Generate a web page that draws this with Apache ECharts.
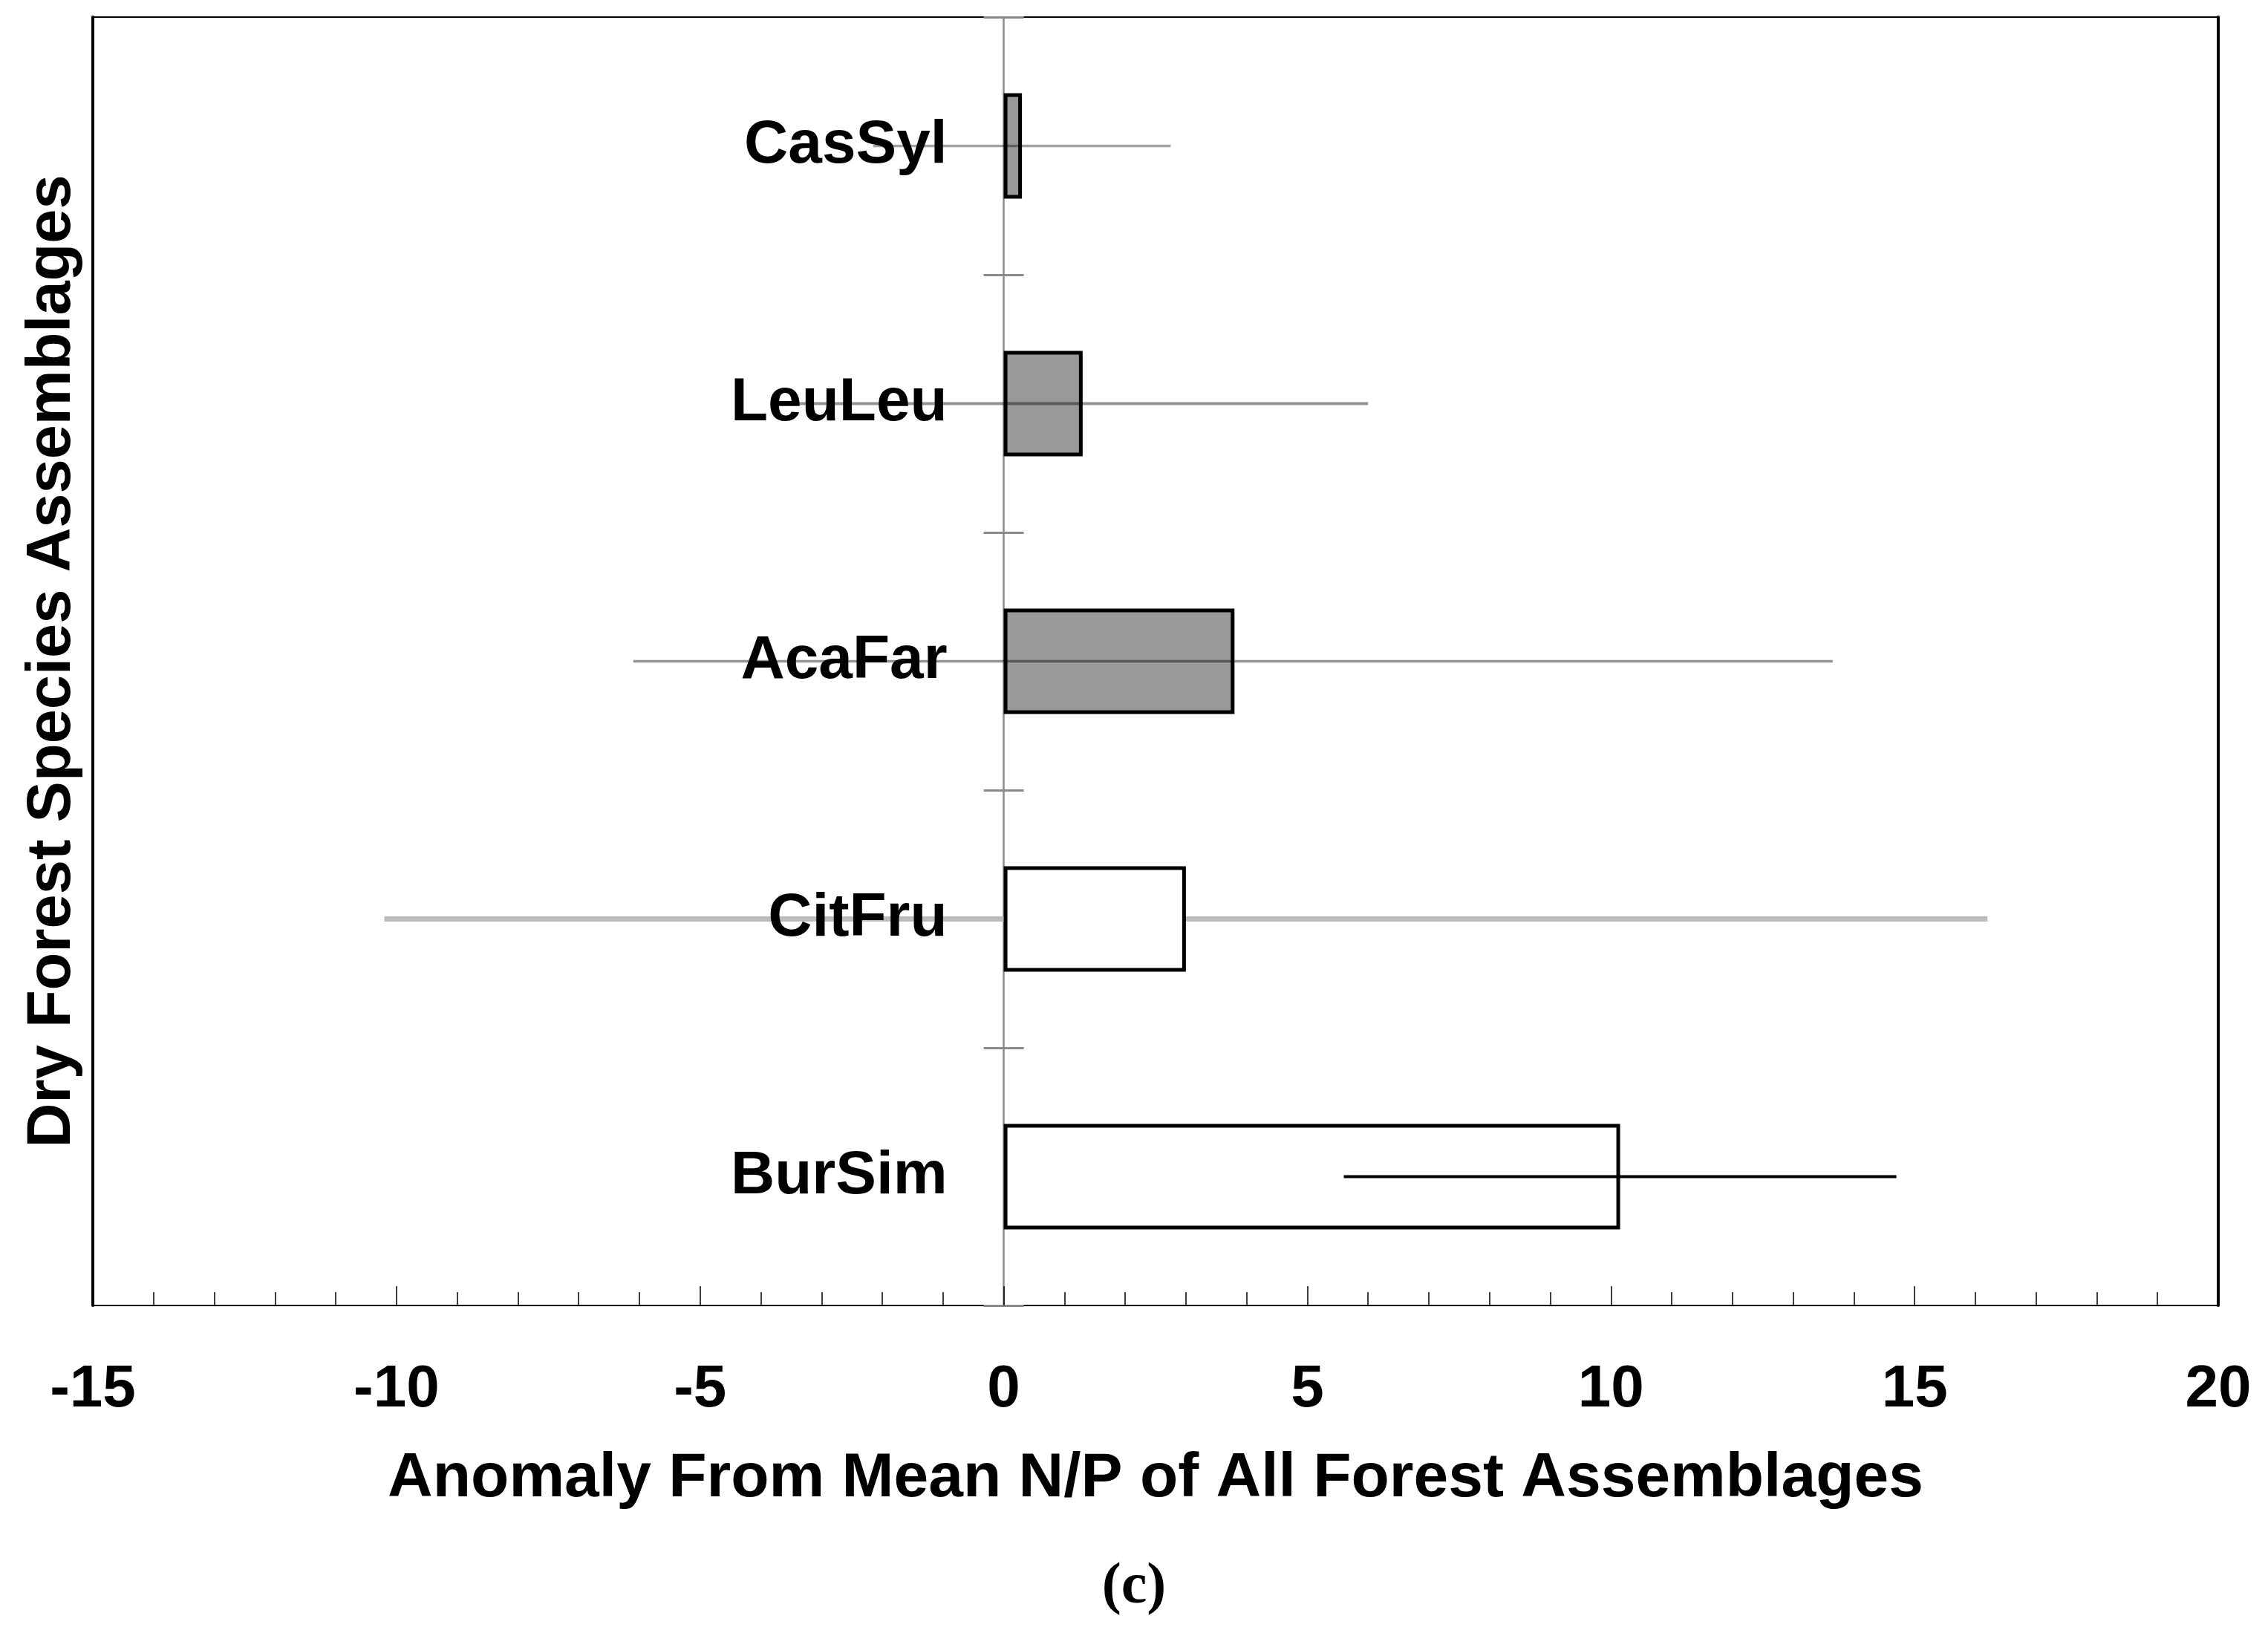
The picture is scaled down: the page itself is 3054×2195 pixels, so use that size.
<!DOCTYPE html>
<html>
<head>
<meta charset="utf-8">
<script src="https://cdn.jsdelivr.net/npm/echarts@6/dist/echarts.min.js"></script>
<style>
html,body{margin:0;padding:0;background:#fff;}
#chart{width:3054px;height:2195px;}
</style>
</head>
<body>
<div id="chart"></div>
<script>
// ---- data ----
const categories = ['CasSyl', 'LeuLeu', 'AcaFar', 'CitFru', 'BurSim'];
const anomalyValues = [0.3, 1.3, 3.8, 3.0, 10.15];
const errorLow = [-2.15, -3.4, -6.1, -10.2, 5.6];
const errorHigh = [2.75, 6.0, 13.65, 16.2, 14.7];
const xMin = -15, xMax = 20, xStep = 5;
const xTitle = 'Anomaly From Mean N/P of All Forest Assemblages';
const yTitle = 'Dry Forest Species Assemblages';
const caption = '(c)';

// ---- styles ----
const barFills = ['#999999', '#999999', '#999999', '#ffffff', '#ffffff'];
const errColors = ['rgba(0,0,0,0.36)', 'rgba(0,0,0,0.42)', 'rgba(0,0,0,0.42)', '#bbbbbb', '#000000'];
const errWidths = [3.5, 4, 3.5, 7, 4];
const errFront = [true, true, true, false, true];

const FONT = '"Liberation Sans", Arial, Helvetica, sans-serif';
const GRID = { left: 125, right: 67, top: 23, bottom: 437 };
const LABEL_RIGHT_EDGE = 76; // gap between category labels and zero line

function makeRender(front) {
  return function (params, api) {
    const i = api.value(0);
    if (errFront[i] !== front) return null;
    const p1 = api.coord([api.value(1), i]);
    const p2 = api.coord([api.value(2), i]);
    return {
      type: 'line',
      shape: { x1: p1[0], y1: p1[1], x2: p2[0], y2: p2[1] },
      style: { stroke: errColors[i], lineWidth: errWidths[i] }
    };
  };
}

const errData = categories.map((c, i) => [i, errorLow[i], errorHigh[i]]);

const chart = echarts.init(document.getElementById('chart'), null, { renderer: 'canvas' });

// label margin so labels end just left of the x = 0 line
const plotW = 3054 - GRID.left - GRID.right;
const zeroOffset = plotW * (0 - xMin) / (xMax - xMin);
const labelMargin = -(zeroOffset - LABEL_RIGHT_EDGE);

const hiddenCat = {
  type: 'category', data: categories, inverse: true,
  axisTick: { show: false }, axisLabel: { show: false }, splitLine: { show: false }
};

chart.setOption({
  animation: false,
  backgroundColor: '#ffffff',
  title: {
    text: caption,
    left: 'center',
    top: 2094,
    textStyle: { fontFamily: '"Liberation Serif", "DejaVu Serif", serif', fontSize: 78, fontWeight: 'bold', color: '#000' }
  },
  grid: Object.assign({
    show: true, borderColor: '#000', borderWidth: 2, backgroundColor: 'transparent',
    outerBoundsMode: 'none', containLabel: false
  }, GRID),
  xAxis: [
    {
      type: 'value',
      min: xMin, max: xMax, interval: xStep,
      axisLine: { onZero: false, lineStyle: { color: '#000', width: 5 } },
      axisTick: { show: true, inside: true, length: 26, lineStyle: { color: '#000', width: 1.5 } },
      minorTick: { show: true, splitNumber: 5, length: 18, lineStyle: { color: '#000', width: 1.5 } },
      splitLine: { show: false },
      axisLabel: { margin: 74, fontSize: 80, fontWeight: 'bold', fontFamily: FONT, color: '#000' },
      name: xTitle,
      nameLocation: 'middle',
      nameGap: 192,
      nameTextStyle: { fontSize: 84, fontWeight: 'bold', fontFamily: FONT, color: '#000' }
    },
    {
      type: 'value', position: 'top',
      min: xMin, max: xMax, interval: xStep,
      axisLine: { show: false, onZero: false },
      axisTick: { show: false }, axisLabel: { show: false }, splitLine: { show: false }
    }
  ],
  yAxis: [
    // category labels, anchored just left of x = 0
    Object.assign({}, hiddenCat, {
      position: 'left', z: 5,
      axisLine: { show: false, onZero: false },
      axisLabel: { show: true, margin: labelMargin, padding: [10, 0, 0, 0], fontSize: 82, fontWeight: 'bold', fontFamily: FONT, color: '#000' }
    }),
    // zero line + left half of boundary ticks
    Object.assign({}, hiddenCat, {
      position: 'left', z: 0,
      axisLine: { show: true, onZero: true, onZeroAxisIndex: 0, lineStyle: { color: '#8a8a8a', width: 2.5 } },
      axisTick: { show: true, inside: false, length: 27, lineStyle: { color: '#8a8a8a', width: 3 } }
    }),
    // right half of boundary ticks
    Object.assign({}, hiddenCat, {
      position: 'right', z: 0,
      axisLine: { show: false, onZero: true, onZeroAxisIndex: 1 },
      axisTick: { show: true, inside: false, length: 27, lineStyle: { color: '#8a8a8a', width: 3 } }
    }),
    // left frame + axis title
    Object.assign({}, hiddenCat, {
      position: 'left',
      axisLine: { show: true, onZero: false, lineStyle: { color: '#000', width: 4 } },
      name: yTitle, nameLocation: 'middle', nameGap: 12, nameRotate: 90,
      nameTextStyle: { fontSize: 83, fontWeight: 'bold', fontFamily: FONT, color: '#000' }
    }),
    // right frame
    Object.assign({}, hiddenCat, {
      position: 'right',
      axisLine: { show: true, onZero: false, lineStyle: { color: '#000', width: 4 } }
    })
  ],
  series: [
    {
      type: 'custom', name: 'errBack', yAxisIndex: 0, z: 1,
      renderItem: makeRender(false),
      encode: { x: [1, 2], y: 0 },
      data: errData
    },
    {
      type: 'bar', name: 'anomaly', yAxisIndex: 0, z: 2,
      barWidth: 142,
      itemStyle: { borderColor: '#000', borderWidth: 5 },
      data: anomalyValues.map((v, i) => ({ value: v, itemStyle: { color: barFills[i] } }))
    },
    {
      type: 'custom', name: 'errFront', yAxisIndex: 0, z: 3,
      renderItem: makeRender(true),
      encode: { x: [1, 2], y: 0 },
      data: errData
    }
  ]
});
</script>
</body>
</html>
